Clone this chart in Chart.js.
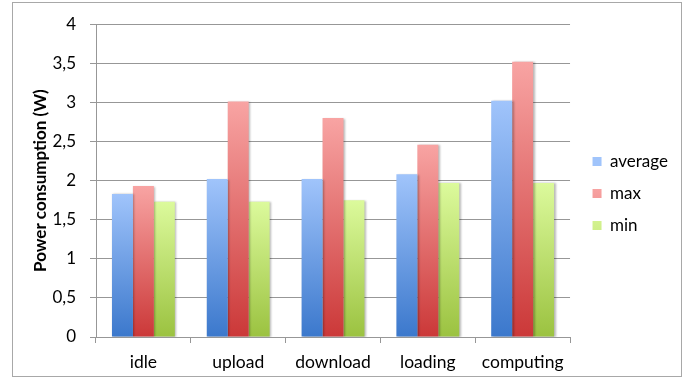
<!DOCTYPE html>
<html>
<head>
<meta charset="utf-8">
<script src="https://cdn.jsdelivr.net/npm/chart.js@4/dist/chart.umd.min.js"></script>
<style>
  html, body { margin: 0; padding: 0; background: #ffffff; }
  #wrap { width: 699px; height: 381px; }
</style>
</head>
<body>
<div id="wrap"><canvas id="c" width="699" height="381"></canvas></div>
<script>
// Power draw per phase (W)
const categories = ['idle', 'upload', 'download', 'loading', 'computing'];
const averageW = [1.83, 2.02, 2.02, 2.08, 3.02];
const maxW     = [1.93, 3.01, 2.80, 2.46, 3.52];
const minW     = [1.73, 1.73, 1.75, 1.97, 1.97];
const yTicks   = [0, 0.5, 1, 1.5, 2, 2.5, 3, 3.5, 4];

const FONT = 'Lato, "Open Sans", "DejaVu Sans", sans-serif';
const GRID = '#979797';

// light-at-top, dark-at-bottom fill for each bar
function barFill(light, mid, dark) {
  return (ctx) => {
    const chart = ctx.chart;
    if (!chart.chartArea || ctx.type !== 'data' || typeof ctx.raw !== 'number') return mid;
    const y = chart.scales.y;
    const top = y.getPixelForValue(ctx.raw);
    const bottom = y.getPixelForValue(0);
    const g = chart.ctx.createLinearGradient(0, top, 0, bottom);
    g.addColorStop(0, light);
    g.addColorStop(1, dark);
    return g;
  };
}

// soft drop shadow behind the bars
const barShadow = {
  id: 'barShadow',
  beforeDatasetsDraw(chart) {
    const c = chart.ctx;
    c.save();
    c.shadowColor = 'rgba(0,0,0,0.28)';
    c.shadowBlur = 2;
    c.shadowOffsetX = 1.5;
    c.shadowOffsetY = 0.5;
  },
  afterDatasetsDraw(chart) { chart.ctx.restore(); }
};

// nudge the legend block beside the plot
const legendNudge = {
  id: 'legendNudge',
  afterLayout(chart) {
    const lg = chart.legend;
    if (!lg) return;
    lg.left += 7.5; lg.right += 7.5;
    lg.top -= 4; lg.bottom -= 4;
  }
};

// thin frame around the whole figure
const frame = {
  id: 'frame',
  afterDraw(chart) {
    const c = chart.ctx;
    c.save();
    c.strokeStyle = '#a8a8a8';
    c.lineWidth = 1;
    c.strokeRect(12.5, 2.5, 669, 374);
    c.restore();
  }
};

new Chart(document.getElementById('c'), {
  type: 'bar',
  data: {
    labels: categories,
    datasets: [
      { label: 'average', data: averageW,
        backgroundColor: barFill('#a0c4fb', '#6d9fe6', '#3b78cc') },
      { label: 'max', data: maxW,
        backgroundColor: barFill('#f8a4a3', '#e46d6c', '#cb3838') },
      { label: 'min', data: minW,
        backgroundColor: barFill('#dcfa9c', '#bfe06e', '#9bc240') }
    ]
  },
  options: {
    responsive: false,
    animation: false,
    devicePixelRatio: 1,
    layout: { padding: { left: 13, right: 28.5, top: 19, bottom: 5 } },
    datasets: { bar: { categoryPercentage: 0.663, barPercentage: 1.0, borderWidth: 0 } },
    plugins: {
      tooltip: { enabled: false },
      legend: {
        position: 'right',
        align: 'center',
        labels: {
          boxWidth: 9, boxHeight: 9, padding: 15,
          color: '#000', font: { family: FONT, size: 17 }
        }
      }
    },
    scales: {
      x: {
        offset: true,
        grid: { drawOnChartArea: false, drawTicks: true, tickLength: 6, color: GRID, offset: true },
        border: { display: true, color: GRID },
        ticks: { color: '#000', font: { family: FONT, size: 17.5 }, padding: 9, maxRotation: 0 },
        afterFit(s) { s.height = 39; }
      },
      y: {
        min: 0, max: 4,
        afterBuildTicks(s) { s.ticks = yTicks.map(v => ({ value: v })); },
        grid: { color: GRID, drawTicks: true, tickLength: 6, tickColor: GRID },
        border: { display: true, color: GRID },
        ticks: {
          color: '#000', font: { family: FONT, size: 17 }, padding: 14,
          callback: (v) => String(v).replace('.', ',')
        },
        title: {
          display: true, text: 'Power consumption (W)', color: '#000',
          font: { family: FONT, size: 17, weight: 'bold' },
          padding: { top: 17, bottom: 0 }
        },
        afterFit(s) { s.width = 83; }
      }
    }
  },
  plugins: [barShadow, legendNudge, frame]
});
</script>
</body>
</html>
